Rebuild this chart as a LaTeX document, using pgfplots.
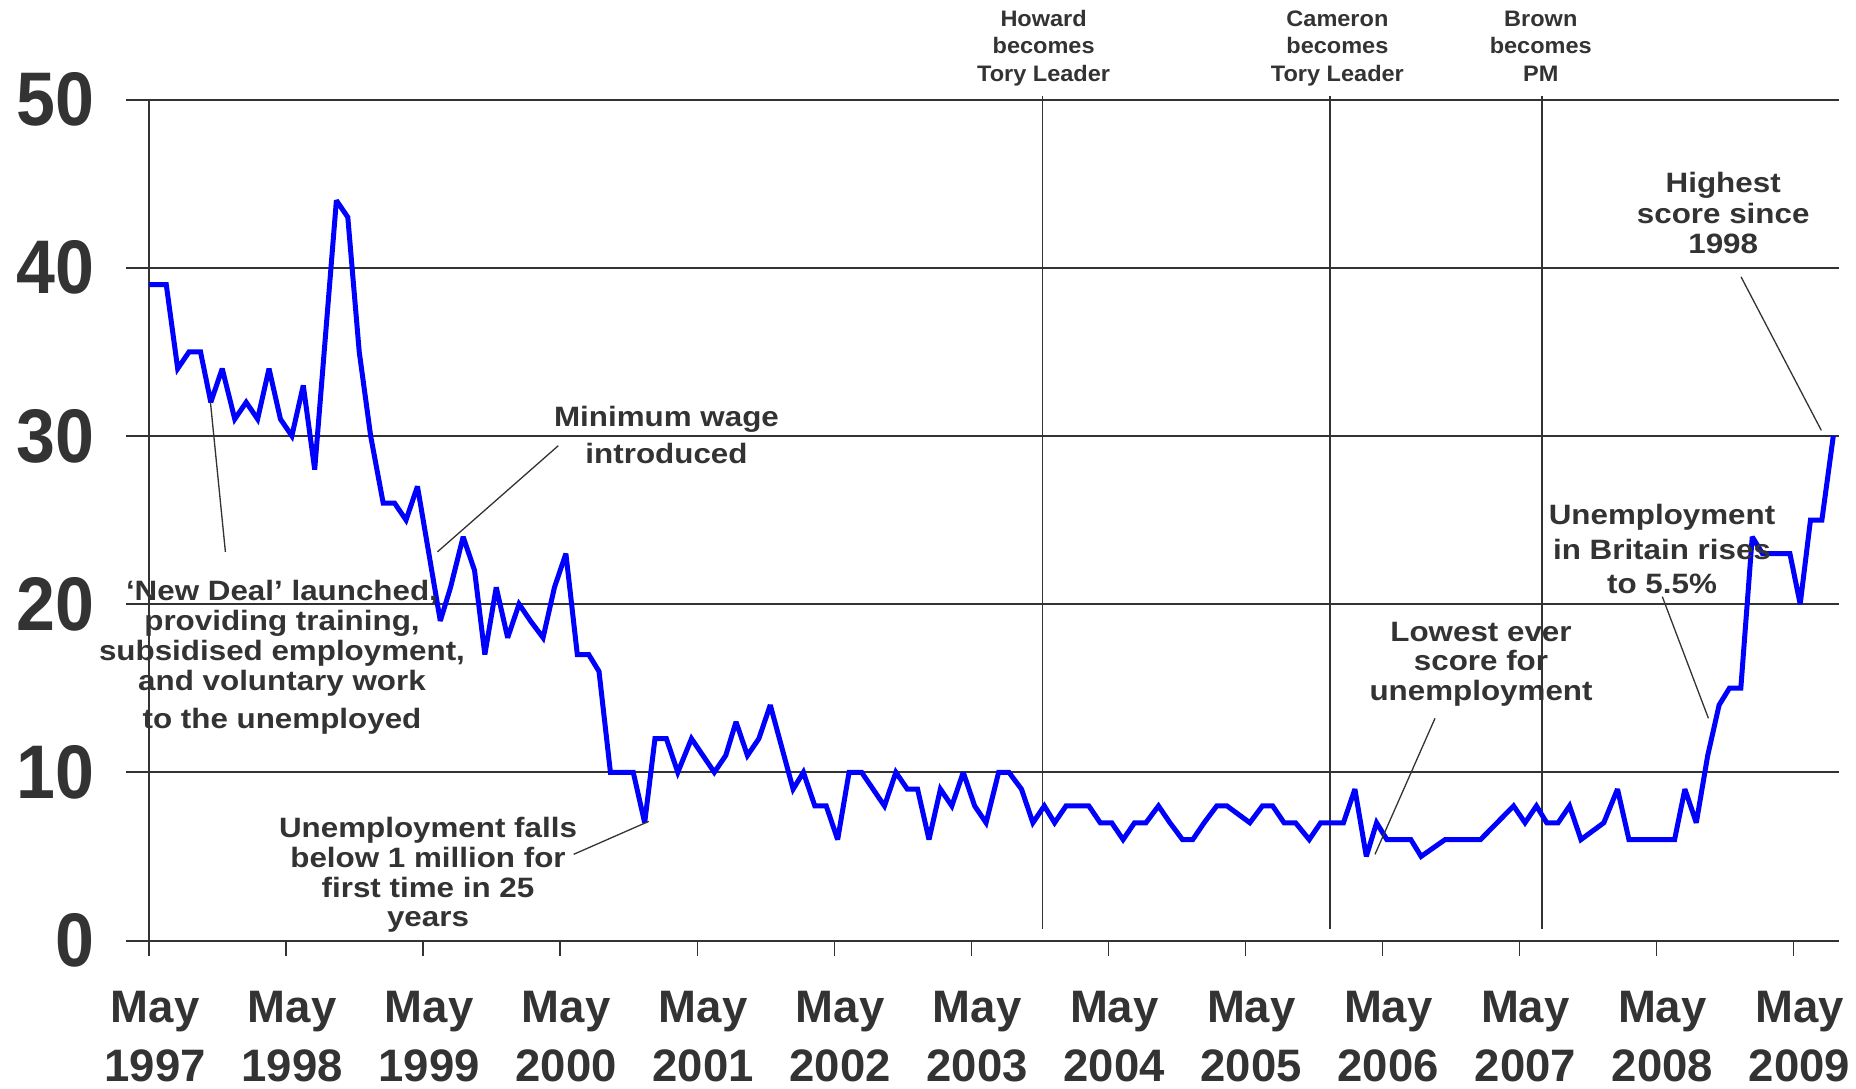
\documentclass[border=0pt]{standalone}
\usepackage{pgfplots}
\pgfplotsset{compat=1.18}
\usepackage{pgfplotstable}
\usepackage{fontspec}
\setmainfont{Liberation Sans}
\newfontfamily\annfont[FakeStretch=1.12]{Liberation Sans}
\newfontfamily\evfont[FakeStretch=1.05]{Liberation Sans}
\newfontfamily\yfont[FakeStretch=0.92]{Liberation Sans}
\definecolor{txt}{HTML}{333333}
\definecolor{serie}{HTML}{0000FF}

\pgfplotstableread{
m v
0 39
1.5 39
2.5 34
3.5 35
4.5 35
5.4 32
6.4 34
7.5 31
8.5 32
9.5 31
10.5 34
11.5 31
12.5 30
13.5 33
14.5 28
16.4 44
17.4 43
18.4 35
19.4 30
20.5 26
21.5 26
22.5 25
23.5 27
24.5 23
25.5 19
26.4 21
27.5 24
28.5 22
29.4 17
30.4 21
31.4 18
32.4 20
33.4 19
34.5 18
35.5 21
36.5 23
37.5 17
38.5 17
39.4 16
40.4 10
41.4 10
42.4 10
43.4 7
44.3 12
45.3 12
46.3 10
47.5 12
48.5 11
49.5 10
50.5 11
51.4 13
52.4 11
53.4 12
54.4 14
56.4 9
57.3 10
58.3 8
59.3 8
60.3 6
61.3 10
62.4 10
63.4 9
64.4 8
65.4 10
66.4 9
67.3 9
68.3 6
69.3 9
70.3 8
71.3 10
72.3 8
73.3 7
74.4 10
75.3 10
76.4 9
77.4 7
78.4 8
79.3 7
80.3 8
81.3 8
82.3 8
83.3 7
84.3 7
85.3 6
86.3 7
87.3 7
88.4 8
89.4 7
90.5 6
91.4 6
92.4 7
93.5 8
94.4 8
96.4 7
97.5 8
98.4 8
99.4 7
100.4 7
101.6 6
102.6 7
103.6 7
104.6 7
105.6 9
106.6 5
107.5 7
108.4 6
109.4 6
110.5 6
111.4 5
113.5 6
114.5 6
115.5 6
116.6 6
119.5 8
120.5 7
121.5 8
122.4 7
123.4 7
124.4 8
125.4 6
127.4 7
128.6 9
129.6 6
130.6 6
131.6 6
132.6 6
133.6 6
134.5 9
135.5 7
136.5 11
137.5 14
138.4 15
139.4 15
140.4 24
141.3 23
142.5 23
143.7 23
144.6 20
145.5 25
146.5 25
147.5 30
}\unemp

\tikzset{
  ylab/.style={anchor=east, inner sep=0pt, text=txt, font=\yfont\fontsize{38}{38}\selectfont\bfseries, xshift=-15.8pt},
  mylab/.style={anchor=base, align=center, inner sep=0pt, text=txt, font=\fontsize{22.75}{29.5}\selectfont\bfseries, xshift=3pt, yshift=-70.5pt},
  evlab/.style={anchor=base, align=center, inner sep=0pt, text=txt, font=\evfont\fontsize{11.2}{13.9}\selectfont\bfseries, yshift=8.9pt},
  ann/.style={anchor=base, align=center, inner sep=0pt, text=txt}
}

\begin{document}
\begin{tikzpicture}
\useasboundingbox (0,0) rectangle (928pt,544pt);
\begin{axis}[
  scale only axis, width=856.35pt, height=420.5pt,
  at={(63.15pt,73.75pt)}, anchor=south west,
  xmin=-2, xmax=148, ymin=0, ymax=50,
  clip=false,
  axis line style={draw=none},
  xtick={0,12,...,144}, xticklabels={},
  xtick pos=bottom, tick align=outside, major tick length=7.5pt,
  xtick style={draw=txt, line width=0.7pt},
  ytick={0,10,...,50}, yticklabels={}, ytick style={draw=none},
  ymajorgrids, grid style={draw=txt, line width=1pt},
]
% event lines and y axis line
\draw[txt, line width=0.85pt] (axis cs:78.25,0.7) -- (axis cs:78.25,50.2);
\draw[txt, line width=0.85pt] (axis cs:103.42,0.7) -- (axis cs:103.42,50.2);
\draw[txt, line width=0.85pt] (axis cs:122,0.7) -- (axis cs:122,50.2);
\draw[txt, line width=0.9pt] (axis cs:0,0) -- (axis cs:0,50);

\addplot[serie, line width=2.5pt, line join=miter, miter limit=3] table[x=m, y=v] {\unemp};

% y tick labels
\node[ylab] at (axis cs:-2,0) {0};
\node[ylab] at (axis cs:-2,10) {10};
\node[ylab] at (axis cs:-2,20) {20};
\node[ylab] at (axis cs:-2,30) {30};
\node[ylab] at (axis cs:-2,40) {40};
\node[ylab] at (axis cs:-2,50) {50};
% x tick labels
\node[mylab] at (axis cs:0,0) {May\\1997};
\node[mylab] at (axis cs:12,0) {May\\1998};
\node[mylab] at (axis cs:24,0) {May\\1999};
\node[mylab] at (axis cs:36,0) {May\\2000};
\node[mylab] at (axis cs:48,0) {May\\2001};
\node[mylab] at (axis cs:60,0) {May\\2002};
\node[mylab] at (axis cs:72,0) {May\\2003};
\node[mylab] at (axis cs:84,0) {May\\2004};
\node[mylab] at (axis cs:96,0) {May\\2005};
\node[mylab] at (axis cs:108,0) {May\\2006};
\node[mylab] at (axis cs:120,0) {May\\2007};
\node[mylab] at (axis cs:132,0) {May\\2008};
\node[mylab] at (axis cs:144,0) {May\\2009};

% event labels
\node[evlab] at (axis cs:78.34,50) {Howard\\becomes\\Tory Leader};
\node[evlab] at (axis cs:104.07,50) {Cameron\\becomes\\Tory Leader};
\node[evlab] at (axis cs:121.88,50) {Brown\\becomes\\PM};
\end{axis}

% annotations (anchor = baseline of last line)
\node[ann, font=\annfont\fontsize{14}{18.35}\selectfont\bfseries] at (333.25pt,312.35pt) {Minimum wage\\introduced};
\node[ann, font=\annfont\fontsize{14}{15}\selectfont\bfseries] at (141pt,179.85pt) {‘New Deal’ launched,\\providing training,\\subsidised employment,\\and voluntary work\\[4.15pt]to the unemployed};
\node[ann, font=\annfont\fontsize{14}{14.9}\selectfont\bfseries] at (214pt,80.6pt) {Unemployment falls\\below 1 million for\\first time in 25\\years};
\node[ann, font=\annfont\fontsize{14}{14.6}\selectfont\bfseries] at (740.5pt,194pt) {Lowest ever\\score for\\unemployment};
\node[ann, font=\annfont\fontsize{14}{17.1}\selectfont\bfseries] at (831pt,247.35pt) {Unemployment\\in Britain rises\\to 5.5\%};
\node[ann, font=\annfont\fontsize{14}{15.2}\selectfont\bfseries] at (861.6pt,417.2pt) {Highest\\score since\\1998};

% leader lines
\draw[txt, line width=0.65pt] (279.15pt,321.15pt) -- (218.75pt,268.1pt);
\draw[txt, line width=0.65pt] (105.2pt,343.1pt) -- (112.7pt,268.1pt);
\draw[txt, line width=0.65pt] (286.85pt,116.85pt) -- (324.35pt,133.3pt);
\draw[txt, line width=0.65pt] (717.5pt,184.85pt) -- (687.5pt,116.85pt);
\draw[txt, line width=0.65pt] (831.15pt,245.65pt) -- (854.2pt,184.85pt);
\draw[txt, line width=0.65pt] (870.5pt,405.6pt) -- (910.65pt,328.8pt);
\end{tikzpicture}
\end{document}
